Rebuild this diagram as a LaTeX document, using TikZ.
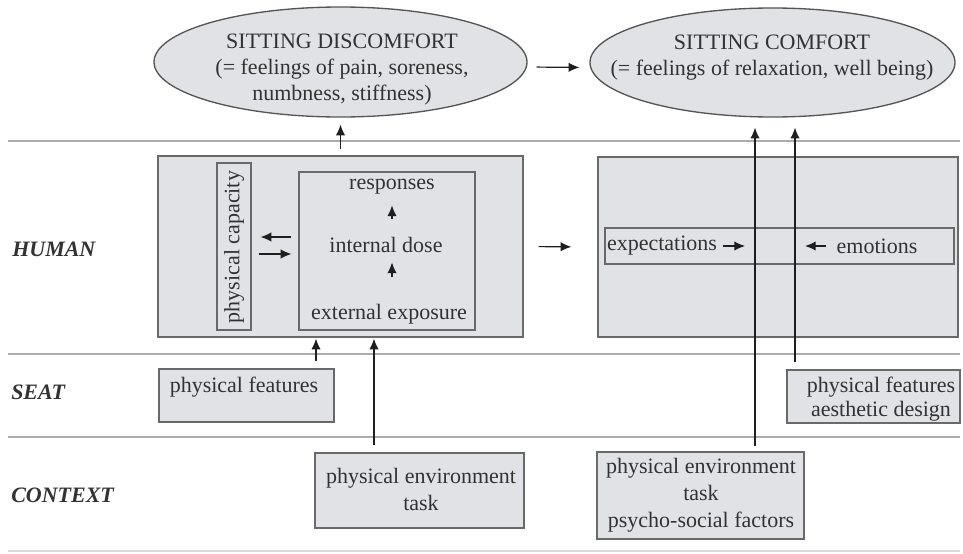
\documentclass[tikz,border=0pt]{standalone}
\usepackage{fontspec}
\setmainfont{Liberation Serif}
\usetikzlibrary{arrows.meta,shapes.geometric,fit,calc}
\definecolor{boxfill}{RGB}{224,226,229}
\definecolor{boxline}{RGB}{105,105,105}
\definecolor{ellline}{RGB}{85,85,85}
\definecolor{sepline}{RGB}{172,172,172}
\definecolor{txt}{RGB}{50,50,50}
\definecolor{arrc}{RGB}{30,30,30}
\begin{document}
\begin{tikzpicture}[x=0.75pt,y=-0.75pt,
  every node/.style={text=txt, font=\fontsize{16.5}{19.5}\selectfont},
  box/.style={draw=boxline, fill=boxfill, line width=1pt, inner sep=0pt},
  ibox/.style={draw=boxline, line width=0.9pt, inner sep=0pt},
  ell/.style={ellipse, draw=ellline, fill=boxfill, line width=1pt, inner sep=0pt},
  sepl/.style={draw=sepline, line width=1.5pt},
  arr/.style={draw=arrc, line width=0.9pt, -{Latex[length=8pt,width=7pt]}},
  lbl/.style={font=\fontsize{16.5}{19.5}\selectfont\bfseries\itshape, anchor=west, inner sep=0pt},
  txtn/.style={inner sep=0pt, align=center}
]
\useasboundingbox (0,0) rectangle (963,553);

% row separators
\draw[sepl] (8,141) -- (960,141);
\draw[sepl] (8,354) -- (960,354);
\draw[sepl] (8,437) -- (960,437);
\draw[sepl, draw=sepline!45] (8,551) -- (960,551);

% ellipses
\node[ell, minimum width=279.75pt, minimum height=82.5pt] (e1) at (340.5,62) {};
\node[txtn] (e1t) at (342,70) {SITTING DISCOMFORT\\(= feelings of pain, soreness,\\numbness, stiffness)};
\node[ell, minimum width=273.75pt, minimum height=81.75pt] (e2) at (772.5,62.5) {};
\node[txtn] (e2t) at (772,58) {SITTING COMFORT\\(= feelings of relaxation, well being)};

% human row
\node[box, fit={(158,156)(523,337)}] (HL) {};
\node[box, fit={(598,157)(958,337)}] (HR) {};
\node[ibox, fit={(217,163)(251,330)}] (pcb) {};
\node[txtn, rotate=90] (pct) at (234,247) {physical capacity};
\node[ibox, fit={(299,172)(475,330)}] (inb) {};
\node[txtn] (resp) at (392,187) {responses};
\node[txtn] (dose) at (386,245) {internal dose};
\node[txtn] (expo) at (389,314) {external exposure};
\node[ibox, fit={(605,228)(954,264)}] (eeb) {};
\node[txtn] (expt) at (662,246) {expectations};
\node[txtn] (emot) at (877,246) {emotions};

% seat row
\node[box, fit={(159,369)(334,422)}] (SL) {};
\node[txtn] (slt) at (244,387) {physical features};
\node[box, fit={(787,370)(960,423)}] (SR) {};
\node[txtn, font=\fontsize{16.5}{18}\selectfont] (srt) at (881,399) {physical features\\aesthetic design};

% context row
\node[box, fit={(315,453)(524,528)}] (C1) {};
\node[txtn, font=\fontsize{16.5}{20.25}\selectfont] (c1t) at (421,489.5) {physical environment\\task};
\node[box, fit={(597,452)(804,539)}] (C2) {};
\node[txtn, font=\fontsize{16.5}{20.25}\selectfont] (c2t) at (701,495) {physical environment\\task\\psycho-social factors};

% row labels
\node[lbl] (lh) at (12,249) {HUMAN};
\node[lbl] (ls) at (11,392) {SEAT};
\node[lbl] (lc) at (11,495) {CONTEXT};

% helper coordinates
\coordinate (x316) at (316,0);
\coordinate (x374) at (374,0);
\coordinate (x755) at (755,0);
\coordinate (x795) at (795,0);
\coordinate (exptip) at (745,246);
\coordinate (emtip) at (805,246);

% connectors
\draw[arr, shorten <=6.75pt, shorten >=7.5pt] ([yshift=-3.75pt]e1.east) -- ([yshift=-3.75pt]e2.west);
\draw[arr, shorten <=4.5pt, shorten >=5.25pt] (HL.north) -- (e1.south);
\draw[arr, shorten <=11.25pt, shorten >=19.5pt] (HL.east) -- (HR.west);
\draw[arr, shorten <=13.6pt, shorten >=8pt] (dose.north -| resp) -- (resp.south);
\draw[arr, shorten <=20pt, shorten >=7.1pt] (expo.north -| resp) -- (dose.south -| resp);
\draw[arr, shorten <=5.25pt, shorten >=6.75pt] ([yshift=10.5pt]inb.west) -- ([yshift=10.5pt]inb.west -| pcb.east);
\draw[arr, shorten <=5.25pt, shorten >=5.25pt] ([yshift=-2.25pt]inb.west -| pcb.east) -- ([yshift=-2.25pt]inb.west);
\draw[arr, shorten <=4.5pt] (expt.east) -- (exptip);
\draw[arr, shorten <=7.5pt] (emot.west) -- (emtip);
\draw[arr, shorten <=5.25pt, shorten >=0.75pt] (SL.north -| x316) -- (HL.south -| x316);
\draw[arr, shorten <=5.25pt, shorten >=0.75pt] (C1.north -| x374) -- (HL.south -| x374);
\draw[arr, shorten <=3.75pt, shorten >=7.5pt] (C2.north -| x755) -- (e2.south -| x755);
\draw[arr, shorten <=5.25pt, shorten >=7.5pt] (SR.north -| x795) -- (e2.south -| x795);
\end{tikzpicture}
\end{document}
